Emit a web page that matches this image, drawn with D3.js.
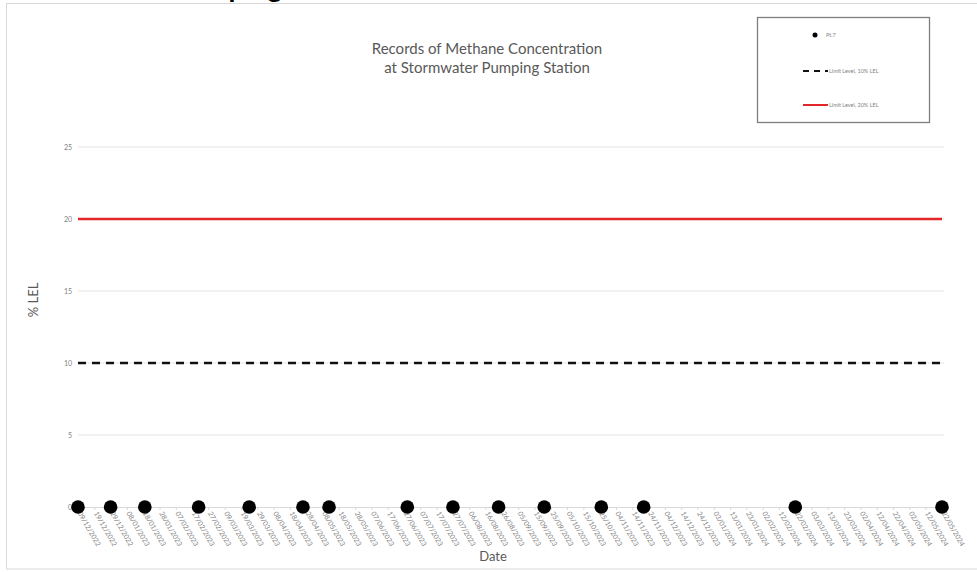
<!DOCTYPE html>
<html>
<head>
<meta charset="utf-8">
<script src="https://cdn.jsdelivr.net/npm/d3@7"></script>
<style>
  body { margin: 0; background: #fff; }
  text { font-family: Lato, "Open Sans", sans-serif; }
</style>
</head>
<body>
<svg id="svg1" width="977" height="572"></svg>
<script>
// measurement dates for Pt.7 (dd/mm/yyyy) and readings in %LEL
const sampleDates = ["09/12/2022", "29/12/2022", "19/01/2023", "21/02/2023", "24/03/2023",
    "26/04/2023", "12/05/2023", "29/06/2023", "27/07/2023", "24/08/2023", "21/09/2023",
    "26/10/2023", "21/11/2023", "22/02/2024", "22/05/2024"];
const pt7 = [0, 0, 0, 0, 0, 0, 0, 0, 0, 0, 0, 0, 0, 0, 0];

// limit lines
const limitDates = ["09/12/2022", "22/05/2024"];
const limit10 = [10, 10];
const limit20 = [20, 20];

const yTicks = [0, 5, 10, 15, 20, 25];
const xTickStep = 10; // days between date labels

const parse = d3.timeParse("%d/%m/%Y");
const fmt = d3.timeFormat("%d/%m/%Y");

var svg = d3.select("#svg1");

// chart frame
svg.append("rect")
    .attr("x", 6.5).attr("y", 3.5)
    .attr("width", 1000).attr("height", 565.5)
    .attr("fill", "none")
    .attr("stroke", "#d9d9d9");

// cut-off heading above the chart
svg.append("text")
    .attr("x", 172).attr("y", -3)
    .attr("font-size", 28).attr("font-weight", "bold")
    .attr("fill", "#000")
    .text("Pumping");

var x = d3.scaleTime()
    .domain([parse(limitDates[0]), parse(limitDates[1])])
    .range([78, 942]);
var y = d3.scaleLinear().domain([0, 25]).range([507, 147]);

var xTickVals = d3.timeDay.range(x.domain()[0], d3.timeDay.offset(x.domain()[1], 1), xTickStep);

// gridlines
svg.append("g")
    .selectAll("line")
    .data(yTicks.filter(d => d > 0))
    .enter().append("line")
    .attr("x1", x.range()[0]).attr("x2", x.range()[1] + 2)
    .attr("y1", d => y(d)).attr("y2", d => y(d))
    .attr("stroke", "#e3e3e3")
    .attr("stroke-width", 1);

// y axis labels
var yAxis = svg.append("g")
    .attr("transform", "translate(78,0)")
    .call(d3.axisLeft(y).tickValues(yTicks).tickSize(0).tickPadding(6));
yAxis.select(".domain").remove();
yAxis.selectAll("text").attr("fill", "#7f7f7f").attr("font-size", 7)
    .style("font-family", "Lato, sans-serif");

// x axis
var xAxis = svg.append("g")
    .attr("transform", "translate(0," + y(0) + ")")
    .call(d3.axisBottom(x).tickValues(xTickVals).tickFormat(fmt).tickSizeOuter(0).tickSizeInner(3));
xAxis.select(".domain").attr("stroke", "#d9d9d9");
xAxis.selectAll(".tick line").attr("stroke", "#d9d9d9");
xAxis.selectAll("text")
    .attr("fill", "#7f7f7f")
    .attr("font-size", 7)
    .style("font-family", "Lato, sans-serif")
    .attr("text-anchor", "start")
    .attr("x", 0).attr("y", 0).attr("dy", "0.35em")
    .attr("transform", "translate(1,5) rotate(60)");

// limit lines
var line = d3.line().x(d => x(d[0])).y(d => y(d[1]));
svg.append("path")
    .datum(limitDates.map((d, i) => [parse(d), limit20[i]]))
    .attr("d", line)
    .attr("fill", "none")
    .attr("stroke", "#e3262a")
    .attr("stroke-width", 2.3);
svg.append("path")
    .datum(limitDates.map((d, i) => [parse(d), limit10[i]]))
    .attr("d", line)
    .attr("fill", "none")
    .attr("stroke", "#111")
    .attr("stroke-width", 2.3)
    .attr("stroke-dasharray", "8,6");

// Pt.7 points
svg.append("g")
    .selectAll("circle")
    .data(sampleDates.map((d, i) => ({ date: parse(d), v: pt7[i] })))
    .enter().append("circle")
    .attr("cx", d => x(d.date))
    .attr("cy", d => y(d.v))
    .attr("r", 6.8)
    .attr("fill", "#000");

// titles
var title = svg.append("text")
    .attr("text-anchor", "middle")
    .attr("fill", "#595959")
    .attr("font-size", 15);
title.append("tspan").attr("x", 487).attr("y", 54).text("Records of Methane Concentration");
title.append("tspan").attr("x", 487).attr("y", 73).text("at Stormwater Pumping Station");

svg.append("text")
    .attr("x", 493).attr("y", 561)
    .attr("text-anchor", "middle")
    .attr("fill", "#595959")
    .attr("font-size", 13)
    .text("Date");

svg.append("text")
    .attr("transform", "translate(38,300) rotate(-90)")
    .attr("text-anchor", "middle")
    .attr("fill", "#595959")
    .attr("font-size", 13)
    .text("% LEL");

// legend
var legend = svg.append("g");
legend.append("rect")
    .attr("x", 757.5).attr("y", 17.5)
    .attr("width", 172).attr("height", 105)
    .attr("fill", "#fff")
    .attr("stroke", "#7f7f7f")
    .attr("stroke-width", 1.3);
legend.append("circle").attr("cx", 815).attr("cy", 35).attr("r", 2.5).attr("fill", "#000");
legend.append("line")
    .attr("x1", 803).attr("x2", 828).attr("y1", 71).attr("y2", 71)
    .attr("stroke", "#111").attr("stroke-width", 2).attr("stroke-dasharray", "6,5");
legend.append("line")
    .attr("x1", 803).attr("x2", 828).attr("y1", 105).attr("y2", 105)
    .attr("stroke", "#e3262a").attr("stroke-width", 2);
var legendLabels = ["Pt.7", "Limit Level, 10% LEL", "Limit Level, 20% LEL"];
legend.selectAll(".legend-label")
    .data(legendLabels)
    .enter().append("text")
    .attr("class", "legend-label")
    .attr("x", (d, i) => i === 0 ? 826 : 829)
    .attr("y", (d, i) => [35, 71, 105][i])
    .attr("dy", "0.35em")
    .attr("fill", "#7f7f7f")
    .attr("font-size", 5.5)
    .text(d => d);
</script>
</body>
</html>
